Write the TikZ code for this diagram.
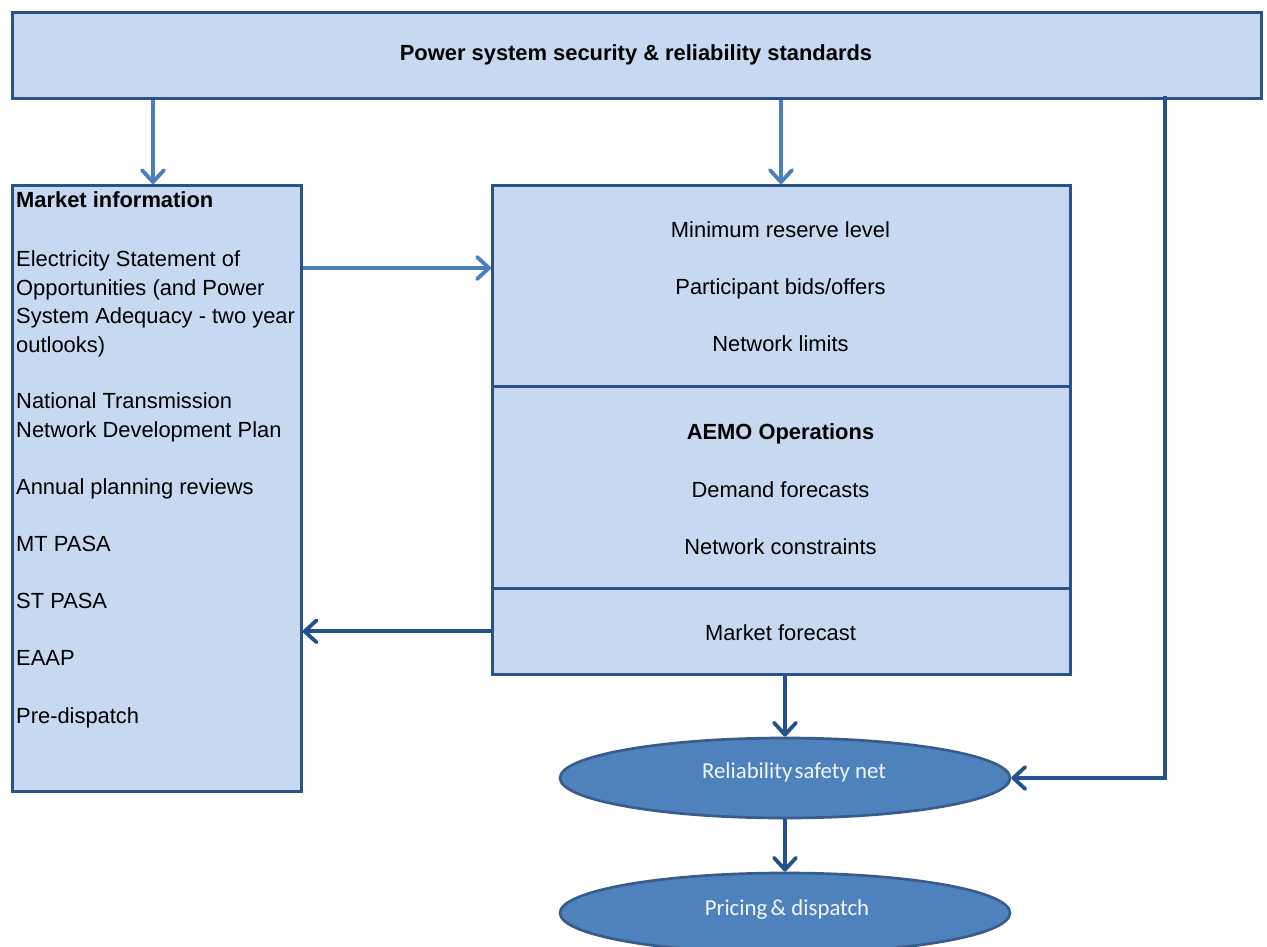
\documentclass[tikz,border=0pt]{standalone}
\usepackage{fontspec}
\setmainfont{Liberation Sans}
\newfontfamily\calib{Carlito}
\usetikzlibrary{arrows.meta,shapes.geometric}
\definecolor{boxfill}{HTML}{C6D9F1}
\definecolor{boxline}{HTML}{2B5287}
\definecolor{darkarr}{HTML}{24528C}
\definecolor{lightarr}{HTML}{4A7EBD}
\definecolor{ellfill}{HTML}{4F81BD}
\definecolor{ellline}{HTML}{385D8A}
\definecolor{elltxt}{HTML}{F2F5FA}
\tikzset{
  box/.style={draw=boxline, fill=boxfill, line width=2.7pt, anchor=north west, inner sep=0pt},
  ell/.style={ellipse, draw=ellline, fill=ellfill, line width=2.7pt, minimum width=450pt, minimum height=80pt, inner sep=0pt},
  elltext/.style={anchor=base, text=elltxt, inner sep=0pt, font=\calib\fontsize{22.8}{26}\selectfont},
  txt/.style={anchor=base, inner sep=0pt, font=\fontsize{21.9}{28.6}\selectfont},
  btxt/.style={txt, font=\fontsize{21.9}{28.6}\selectfont\bfseries},
  larr/.style={draw=lightarr, line width=3.8pt, -{Straight Barb[length=12pt,width=22pt,round]}},
  darr/.style={draw=darkarr, line width=3.8pt, -{Straight Barb[length=12pt,width=22pt,round]}},
}
\begin{document}
\begin{tikzpicture}[x=1pt,y=-1pt]
\useasboundingbox (0,0) rectangle (1267,947);
\clip (0,0) rectangle (1267,947);
% boxes
\node[box, minimum width=1249pt, minimum height=86pt] (top) at (11,11) {};
\node[btxt] (toptxt) at (636,61) {Power system security \& reliability standards};
\node[box, minimum width=289pt, minimum height=606pt] (left) at (11,184) {};
\node[anchor=north west, inner sep=0pt, align=left, font=\fontsize{21.9}{28.6}\selectfont] (lefttxt) at (16,191.5)
{\textbf{Market information}\\[30.5pt]
Electricity Statement of\\
Opportunities (and Power\\
System Adequacy - two year\\
outlooks)\\[27.4pt]
National Transmission\\
Network Development Plan\\[28.6pt]
Annual planning reviews\\[28.6pt]
MT PASA\\[28.6pt]
ST PASA\\[28.6pt]
EAAP\\[28.6pt]
Pre-dispatch};
\node[box, minimum width=578pt, minimum height=201pt] (mtop) at (491,184) {};
\node[box, minimum width=578pt, minimum height=202pt] (mmid) at (491,385) {};
\node[box, minimum width=578pt, minimum height=86pt] (mbot) at (491,587) {};
\node[txt] (t1) at (780.5,237) {Minimum reserve level};
\node[txt] (t2) at (780.5,294) {Participant bids/offers};
\node[txt] (t3) at (780.5,351) {Network limits};
\node[btxt] (t4) at (780.5,439) {AEMO Operations};
\node[txt] (t5) at (780.5,497) {Demand forecasts};
\node[txt] (t6) at (780.5,554) {Network constraints};
\node[txt] (t7) at (780.5,640) {Market forecast};
% ellipses
\node[ell] (rsn) at (785,778) {};
\node[elltext] (rsntxt) at (794,778) {Reliability\hspace{0.1em}safety net};
\node[ell] (pd) at (785,913) {};
\node[elltext] (pdtxt) at (787,915) {Pricing\hspace{0.15em}\& dispatch};
% connectors
\coordinate (la) at (153,0);
\coordinate (ma) at (781,0);
\coordinate (ra) at (1165,0);
\coordinate (ha) at (0,268);
\draw[larr] (la |- top.south) -- (la |- left.north);
\draw[larr] (ma |- top.south) -- (ma |- mtop.north);
\draw[larr] (left.east |- ha) -- (mtop.west |- ha);
\draw[darr] (mbot.west) -- (mbot.west -| left.east);
\draw[darr] (rsn.north |- mbot.south) -- (rsn.north);
\draw[darr] (rsn.south) -- (pd.north);
\draw[darr] ([yshift=4pt]ra |- top.south) -- (ra |- rsn.east) -- (rsn.east);
\end{tikzpicture}
\end{document}
